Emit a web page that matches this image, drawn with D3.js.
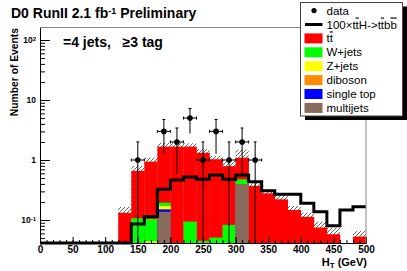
<!DOCTYPE html>
<html>
<head>
<meta charset="utf-8">
<script src="https://cdn.jsdelivr.net/npm/d3@7"></script>
<style>
  body { margin: 0; background: #fff; }
  svg { display: block; font-family: "Liberation Sans", Arial, sans-serif; }
  .axis text { font-weight: bold; fill: #000; }
  .axis path, .axis line { stroke: #000; }
</style>
</head>
<body>
<div id="chart"></div>
<script>
// bin low edges (GeV), 20 GeV wide
var binLow = [0, 20, 40, 60, 80, 100, 120, 140, 160, 180, 200, 220, 240, 260, 280, 300, 320, 340, 360, 380, 400, 420, 440, 460, 480];

var multijets = [0, 0, 0, 0, 0, 0, 0, 0, 0, 0.137, 0, 0, 0, 0, 0, 0.398, 0, 0, 0, 0, 0, 0, 0, 0, 0];
var singleTop = [0, 0, 0, 0, 0, 0, 0, 0, 0, 0.013, 0, 0, 0, 0, 0, 0, 0, 0, 0, 0, 0, 0, 0, 0, 0];
var diboson   = [0, 0, 0, 0, 0, 0, 0, 0, 0, 0, 0, 0, 0, 0, 0, 0, 0, 0, 0, 0, 0, 0, 0, 0, 0];
var zjets     = [0, 0, 0, 0, 0, 0, 0, 0, 0.044, 0.021, 0, 0, 0, 0, 0, 0, 0, 0, 0, 0, 0, 0, 0, 0, 0];
var wjets     = [0, 0, 0, 0, 0, 0, 0, 0.107, 0.060, 0.023, 0, 0.094, 0.045, 0.051, 0.083, 0.079, 0, 0, 0, 0, 0, 0, 0, 0, 0];
var ttbar     = [0, 0, 0, 0, 0, 0, 0.132, 0.553, 0.836, 1.476, 1.67, 1.576, 1.275, 0.979, 0.707, 0.613, 0.37, 0.278, 0.221, 0.147, 0.113, 0.075, 0.058, 0, 0.053];
// upper uncertainty on total background
var mcErr     = [0, 0, 0, 0, 0, 0, 0.033, 0.14, 0.15, 0.27, 0.27, 0.23, 0.21, 0.14, 0.2, 0.4, 0.04, 0.047, 0.04, 0.024, 0.02, 0.019, 0.017, 0, 0.013];
// 100 x ttH signal
var ttH100    = [0, 0, 0, 0, 0, 0, 0, 0.086, 0.114, 0.325, 0.464, 0.52, 0.477, 0.56, 0.477, 0.56, 0.435, 0.307, 0.27, 0.27, 0.19, 0.137, 0.08, 0.147, 0.167];
var dataCounts = [0, 0, 0, 0, 0, 0, 0, 1, 0, 3, 2, 5, 1, 3, 1, 2, 1, 0, 0, 0, 0, 0, 0, 0, 0];

var xTicks = [0, 50, 100, 150, 200, 250, 300, 350, 400, 450, 500];
var yTicks = [0.1, 1, 10, 100];
var yTickLabels = [["10", "-1"], ["1", ""], ["10", ""], ["10", "2"]];

var components = [
  {name: "multijets", values: multijets, color: "#8a6a5a"},
  {name: "single top", values: singleTop, color: "#0000ff"},
  {name: "diboson", values: diboson, color: "#ff8c00"},
  {name: "Z+jets", values: zjets, color: "#ffff00"},
  {name: "W+jets", values: wjets, color: "#00ff00"},
  {name: "ttbar", values: ttbar, color: "#ff0000"}
];

var width = 407, height = 271,
    frame = {left: 40, right: 366, top: 27.5, bottom: 243},
    binWidth = 20;

var svg = d3.select("#chart").append("svg")
    .attr("width", width)
    .attr("height", height);

var x = d3.scaleLinear().domain([0, 500]).range([frame.left, frame.right]);
var y = d3.scaleLog().domain([0.0414, 161.6]).range([frame.bottom, frame.top]);

function yv(v) { return v > y.domain()[0] ? y(v) : frame.bottom; }

// hatch pattern for the MC uncertainty
var defs = svg.append("defs");
defs.append("pattern")
    .attr("id", "hatch")
    .attr("patternUnits", "userSpaceOnUse")
    .attr("width", 4).attr("height", 4)
  .append("path")
    .attr("d", "M-1,1 l2,-2 M0,4 l4,-4 M3,5 l2,-2")
    .attr("stroke", "#222")
    .attr("stroke-width", 0.7);

// cumulative stack
var cum = binLow.map(() => 0);
var layers = components.map(c => {
  cum = cum.map((s, i) => s + c.values[i]);
  return {name: c.name, color: c.color, tops: cum.slice()};
});
var total = layers[layers.length - 1].tops;

// uncertainty band
svg.append("g").selectAll("rect")
  .data(binLow.filter((d, i) => mcErr[i] > 0))
  .enter().append("rect")
    .attr("x", d => x(d))
    .attr("width", x(binWidth) - x(0))
    .attr("y", d => yv(total[d / binWidth] + mcErr[d / binWidth]))
    .attr("height", d => frame.bottom - yv(total[d / binWidth] + mcErr[d / binWidth]))
    .attr("fill", "url(#hatch)");

// stack: biggest drawn first
layers.slice().reverse().forEach(l => {
  svg.append("g").selectAll("rect")
    .data(binLow.filter((d, i) => l.tops[i] > 0))
    .enter().append("rect")
      .attr("x", d => x(d))
      .attr("width", x(binWidth) - x(0) + 0.3)
      .attr("y", d => yv(l.tops[d / binWidth]))
      .attr("height", d => frame.bottom - yv(l.tops[d / binWidth]))
      .attr("fill", l.color);
});

// 100 x ttH line
var stepPts = binLow.map((d, i) => [d, ttH100[i]]);
stepPts.push([500, ttH100[ttH100.length - 1]]);
svg.append("path")
  .attr("d", d3.line().x(d => x(d[0])).y(d => yv(d[1])).curve(d3.curveStepAfter)(stepPts))
  .attr("fill", "none")
  .attr("stroke", "#000")
  .attr("stroke-width", 3);

// axes
var gx = svg.append("g").attr("class", "axis")
  .attr("transform", `translate(0,${frame.bottom})`)
  .style("font-size", "10px")
  .call(d3.axisBottom(x).tickValues(xTicks).tickSize(-6).tickSizeOuter(0).tickPadding(3));
svg.append("g").attr("class", "axis")
  .attr("transform", `translate(0,${frame.bottom})`)
  .call(d3.axisBottom(x).ticks(50).tickSize(-3).tickSizeOuter(0).tickFormat(""));

var minorY = [];
[0.01, 0.1, 1, 10, 100].forEach(dec => {
  for (var k = 2; k <= 9; k++) {
    if (k * dec > y.domain()[0] && k * dec < y.domain()[1]) minorY.push(k * dec);
  }
});
svg.append("g").attr("class", "axis")
  .attr("transform", `translate(${frame.left},0)`)
  .call(d3.axisLeft(y).tickValues(minorY).tickSize(-5).tickSizeOuter(0).tickFormat(""));
var gy = svg.append("g").attr("class", "axis")
  .attr("transform", `translate(${frame.left},0)`)
  .style("font-size", "8.5px")
  .call(d3.axisLeft(y).tickValues(yTicks).tickSize(-10).tickSizeOuter(0).tickPadding(4).tickFormat(""));
gy.selectAll(".tick text").each(function(d, i) {
  var t = d3.select(this);
  t.append("tspan").text(yTickLabels[i][0]);
  if (yTickLabels[i][1]) t.append("tspan").attr("dy", "-0.45em").style("font-size", "6px").text(yTickLabels[i][1]);
});

// frame top/right (grey)
svg.append("path")
  .attr("d", `M${frame.left},${frame.top}H${frame.right}V${frame.bottom}`)
  .attr("fill", "none")
  .attr("stroke", "#888")
  .attr("stroke-width", 1);

// data points with errors
var pts = binLow.map((d, i) => ({c: d + binWidth / 2, n: dataCounts[i]})).filter(p => p.n > 0);
var dg = svg.append("g").attr("stroke", "#000").attr("stroke-width", 1);
pts.forEach(p => {
  var cx = x(p.c), cy = y(p.n),
      yHi = y(p.n + Math.sqrt(p.n)), yLo = yv(p.n - Math.sqrt(p.n)),
      xl = x(p.c - binWidth / 2), xr = x(p.c + binWidth / 2);
  dg.append("line").attr("x1", cx).attr("x2", cx).attr("y1", yHi).attr("y2", yLo);
  dg.append("line").attr("x1", xl).attr("x2", xr).attr("y1", cy).attr("y2", cy);
  dg.append("line").attr("x1", cx - 1.5).attr("x2", cx + 1.5).attr("y1", yHi).attr("y2", yHi);
  dg.append("line").attr("x1", xl).attr("x2", xl).attr("y1", cy - 1.5).attr("y2", cy + 1.5);
  dg.append("line").attr("x1", xr).attr("x2", xr).attr("y1", cy - 1.5).attr("y2", cy + 1.5);
  dg.append("circle").attr("cx", cx).attr("cy", cy).attr("r", 2.8).attr("fill", "#000").attr("stroke", "none");
});

// titles
var title = svg.append("text").attr("x", 11).attr("y", 18)
  .style("font-size", "14px").style("font-weight", "bold");
title.append("tspan").text("D0 RunII 2.1 fb");
title.append("tspan").attr("dy", "-0.45em").style("font-size", "9px").text("-1");
title.append("tspan").attr("dy", "0.29em").text(" Preliminary");

svg.append("text").attr("x", 63).attr("y", 47)
  .style("font-size", "14px").style("font-weight", "bold")
  .attr("xml:space", "preserve")
  .text("=4 jets,   \u22653 tag");

svg.append("text")
  .attr("transform", "translate(17.5,28) rotate(-90)")
  .attr("text-anchor", "end")
  .style("font-size", "10.3px").style("font-weight", "bold")
  .text("Number of Events");

var xl = svg.append("text").attr("x", 367).attr("y", 266)
  .attr("text-anchor", "end")
  .style("font-size", "11px").style("font-weight", "bold");
xl.append("tspan").text("H");
xl.append("tspan").attr("dy", "0.3em").style("font-size", "8px").text("T");
xl.append("tspan").attr("dy", "-0.22em").text(" (GeV)");

// legend
var leg = {x: 300.5, y: 2.5, w: 102, h: 113.5, row: 13.9};
svg.append("rect").attr("x", leg.x + 4.5).attr("y", leg.y + 4).attr("width", leg.w).attr("height", leg.h).attr("fill", "#000");
svg.append("rect").attr("x", leg.x).attr("y", leg.y).attr("width", leg.w).attr("height", leg.h)
  .attr("fill", "#fff").attr("stroke", "#444").attr("stroke-width", 1);

var legItems = [
  {type: "dot"},
  {type: "line"},
  {type: "box", color: components[5].color},
  {type: "box", color: components[4].color, label: "W+jets"},
  {type: "box", color: components[3].color, label: "Z+jets"},
  {type: "box", color: components[2].color, label: "diboson"},
  {type: "box", color: components[1].color, label: "single top"},
  {type: "box", color: components[0].color, label: "multijets"}
];
legItems.forEach((it, i) => {
  var cy = 10.6 + i * leg.row;
  if (it.type === "dot") svg.append("circle").attr("cx", 314).attr("cy", cy).attr("r", 2.6).attr("fill", "#000");
  if (it.type === "line") svg.append("line").attr("x1", 305).attr("x2", 322.5).attr("y1", cy).attr("y2", cy).attr("stroke", "#000").attr("stroke-width", 3);
  if (it.type === "box") svg.append("rect").attr("x", 304.5).attr("y", cy - 5).attr("width", 18).attr("height", 10).attr("fill", it.color);
  var t = svg.append("text").attr("x", 326.5).attr("y", cy + 4).style("font-size", "11.5px");
  if (i === 0) t.text("data");
  else if (i === 1) {
    t.append("tspan").text("100\u00d7t");
    t.append("tspan").attr("text-decoration", "overline").text("t");
    t.append("tspan").text("H->t");
    t.append("tspan").attr("text-decoration", "overline").text("t");
    t.append("tspan").text("b");
    t.append("tspan").attr("text-decoration", "overline").text("b");
  } else if (i === 2) {
    t.append("tspan").text("t");
    t.append("tspan").attr("text-decoration", "overline").text("t");
  } else t.text(it.label);
});
</script>
</body>
</html>
